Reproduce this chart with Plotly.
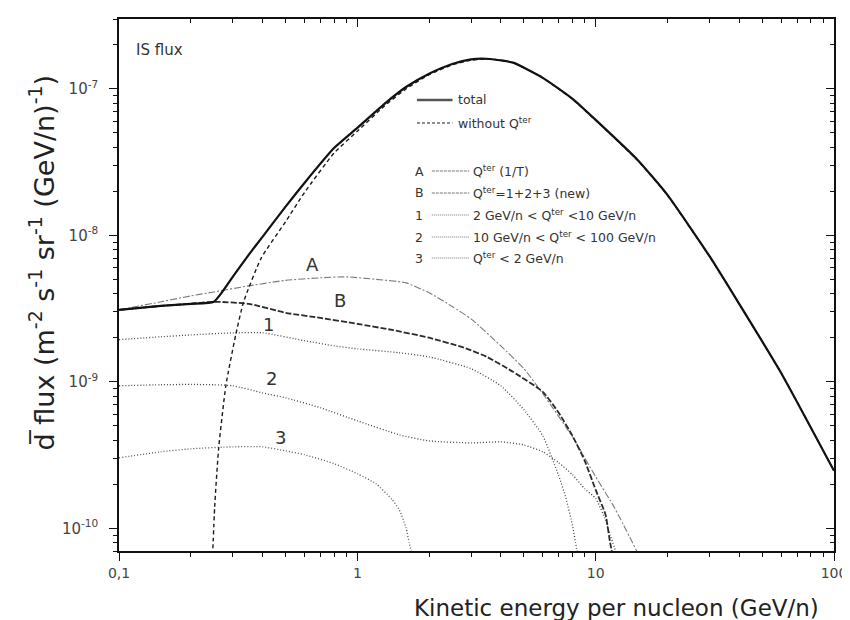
import numpy as np
import plotly.graph_objects as go

# ---------------- data ----------------
total_x = [0.1, 0.15, 0.2, 0.25, 0.3, 0.35, 0.4, 0.5, 0.6, 0.8, 1.0, 1.3, 1.6, 2.0,
           2.5, 3.0, 3.6, 4.5, 6, 8, 10, 15, 20, 30, 40, 60, 100]
total_y = [3.10e-9, 3.30e-9, 3.41e-9, 3.52e-9, 5.21e-9, 7.36e-9, 9.77e-9, 1.57e-8,
           2.28e-8, 3.96e-8, 5.42e-8, 7.91e-8, 1.03e-7, 1.27e-7, 1.48e-7, 1.59e-7,
           1.60e-7, 1.51e-7, 1.19e-7, 8.55e-8, 6.14e-8, 3.27e-8, 1.89e-8, 7.24e-9,
           3.41e-9, 1.15e-9, 2.47e-10]

without_x = [0.247, 0.252, 0.262, 0.281, 0.309, 0.333, 0.395, 0.5, 0.6, 0.8, 1.0, 1.3,
             1.6, 2.0, 2.5, 3.0, 3.6, 4.5, 6, 8, 10, 15, 20, 30, 40, 60, 100]
without_y = [6.5e-11, 1.4e-10, 3.55e-10, 9.5e-10, 2.1e-9, 3.5e-9, 7.0e-9, 1.24e-8,
             1.96e-8, 3.66e-8, 5.14e-8, 7.65e-8, 1.0e-7, 1.25e-7, 1.46e-7, 1.57e-7,
             1.60e-7, 1.51e-7, 1.19e-7, 8.5e-8, 6.1e-8, 3.25e-8, 1.88e-8, 7.2e-9,
             3.4e-9, 1.15e-9, 2.47e-10]

a_x = [0.1, 0.15, 0.2, 0.25, 0.35, 0.5, 0.7, 0.9, 1.2, 1.6, 2.0, 2.5, 3.0, 4.0, 5.0,
       6.0, 8.0, 10.0, 12.0, 15.0]
a_y = [3.10e-9, 3.52e-9, 3.86e-9, 4.11e-9, 4.52e-9, 4.93e-9, 5.13e-9, 5.21e-9, 5.01e-9,
       4.74e-9, 4.06e-9, 3.27e-9, 2.69e-9, 1.76e-9, 1.23e-9, 8.3e-10, 4.2e-10, 2.25e-10,
       1.38e-10, 6.8e-11]

b_x = [0.1, 0.15, 0.2, 0.25, 0.35, 0.5, 0.7, 1.0, 1.4, 2.0, 2.8, 3.5, 4.5, 6.0, 7.0,
       8.0, 9.0, 10.0, 11.0, 11.5, 11.8]
b_y = [3.10e-9, 3.30e-9, 3.41e-9, 3.52e-9, 3.41e-9, 2.96e-9, 2.73e-9, 2.49e-9, 2.26e-9,
       2.00e-9, 1.71e-9, 1.48e-9, 1.17e-9, 8.55e-10, 6.14e-10, 4.27e-10, 2.89e-10,
       1.83e-10, 1.24e-10, 7.96e-11, 6.5e-11]

c1_x = [0.1, 0.15, 0.2, 0.3, 0.4, 0.6, 0.8, 1.0, 1.5, 2.0, 3.0, 4.0, 5.0, 6.0, 7.0,
        7.5, 8.0, 8.3, 8.5]
c1_y = [1.94e-9, 2.03e-9, 2.09e-9, 2.16e-9, 2.16e-9, 1.91e-9, 1.76e-9, 1.68e-9,
        1.58e-9, 1.48e-9, 1.23e-9, 9.4e-10, 6.45e-10, 4.28e-10, 2.28e-10, 1.61e-10,
        1.04e-10, 7.4e-11, 6.0e-11]

c2_x = [0.1, 0.15, 0.2, 0.25, 0.3, 0.4, 0.5, 0.7, 1.0, 1.5, 2.0, 3.0, 4.0, 5.0, 6.0,
        7.0, 8.0, 9.0, 10.0, 11.0, 11.5, 12.2]
c2_y = [9.4e-10, 9.55e-10, 9.6e-10, 9.55e-10, 9.4e-10, 8.4e-10, 7.78e-10, 6.65e-10,
        5.42e-10, 4.35e-10, 3.95e-10, 3.83e-10, 3.89e-10, 3.71e-10, 3.33e-10, 2.80e-10,
        2.32e-10, 1.86e-10, 1.6e-10, 1.14e-10, 9.0e-11, 6.8e-11]

c3_x = [0.1, 0.15, 0.2, 0.3, 0.4, 0.5, 0.6, 0.8, 1.0, 1.2, 1.4, 1.5, 1.6, 1.65, 1.7]
c3_y = [3.03e-10, 3.33e-10, 3.49e-10, 3.60e-10, 3.60e-10, 3.38e-10, 3.18e-10, 2.76e-10,
        2.36e-10, 2.01e-10, 1.57e-10, 1.34e-10, 1.01e-10, 8.0e-11, 6.5e-11]

x_major = [0.1, 1, 10, 100]
x_major_text = ["0,1", "1", "10", "100"]
y_major = [1e-10, 1e-9, 1e-8, 1e-7]
y_major_text = ["10<sup>-10</sup>", "10<sup>-9</sup>", "10<sup>-8</sup>", "10<sup>-7</sup>"]

curve_labels = ["A", "B", "1", "2", "3"]
curve_label_x = [0.648, 0.848, 0.423, 0.435, 0.474]
curve_label_y = [6.29e-9, 3.57e-9, 2.45e-9, 1.06e-9, 4.15e-10]

legend_keys = ["A", "B", "1", "2", "3"]
legend_texts = ["Q<sup>ter</sup> (1/T)",
                "Q<sup>ter</sup>=1+2+3 (new)",
                "2 GeV/n &lt; Q<sup>ter</sup> &lt;10 GeV/n",
                "10 GeV/n &lt; Q<sup>ter</sup> &lt; 100 GeV/n",
                "Q<sup>ter</sup> &lt; 2 GeV/n"]

# ---------------- layout geometry ----------------
W, H = 850, 620
L, R, T, B = 110.5, 834.0, 11.0, 543.0
FONT = "DejaVu Sans"


def px(xp):
    return (xp - L) / (R - L)


def py(yp):
    return (B - yp) / (B - T)


x_minor = [m * d for d in [0.1, 1, 10] for m in range(2, 10)]
y_minor = [m * d for d in [1e-11, 1e-10, 1e-9, 1e-8, 1e-7] for m in range(2, 10)]

fig = go.Figure()

styles = {
    "A": dict(color="#7a7a7a", width=1.1, dash="7px,2px,2px,2px"),
    "B": dict(color="#2a2a2a", width=1.8, dash="6px,2px"),
    "1": dict(color="#444444", width=1.3, dash="1px,2px"),
    "2": dict(color="#444444", width=1.3, dash="1px,2px"),
    "3": dict(color="#555555", width=1.3, dash="1px,2px"),
    "without": dict(color="#1a1a1a", width=1.4, dash="4px,3px"),
    "total": dict(color="#111111", width=2.2, dash="solid"),
}

series = [
    ("3", c3_x, c3_y),
    ("2", c2_x, c2_y),
    ("1", c1_x, c1_y),
    ("A", a_x, a_y),
    ("B", b_x, b_y),
    ("without", without_x, without_y),
    ("total", total_x, total_y),
]
for key, xs, ys in series:
    st = styles[key]
    fig.add_trace(go.Scatter(
        x=xs, y=ys, mode="lines",
        line=dict(color=st["color"], width=st["width"], dash=st["dash"],
                  shape="spline", smoothing=0.5),
        showlegend=False, hoverinfo="skip"))

# invisible trace so the mirrored (top/right) axes get drawn
fig.add_trace(go.Scatter(x=[1], y=[1e-8], xaxis="x2", yaxis="y2", mode="markers",
                         marker=dict(opacity=0), showlegend=False, hoverinfo="skip"))

axis_common = dict(showgrid=False, zeroline=False, showline=True, linecolor="#111",
                   linewidth=1.6, tickcolor="#111", tickwidth=1.2)

fig.update_layout(
    width=W, height=H,
    margin=dict(l=L, r=W - R, t=T, b=H - B),
    paper_bgcolor="white", plot_bgcolor="white",
    font=dict(family=FONT, color="#333"),
    xaxis=dict(type="log", range=[-1, 2], tickvals=x_major, ticktext=x_major_text,
               ticks="outside", ticklen=8,
               tickfont=dict(size=14, color="#444", family=FONT),
               minor=dict(tickvals=x_minor, ticks="outside", ticklen=4,
                          tickcolor="#111", tickwidth=1),
               **axis_common),
    yaxis=dict(type="log", range=[np.log10(7.0e-11), np.log10(3.0e-7)],
               tickvals=y_major, ticktext=y_major_text,
               ticks="outside", ticklen=8, ticklabelstandoff=8,
               tickfont=dict(size=15, color="#444", family=FONT),
               minor=dict(tickvals=y_minor, ticks="outside", ticklen=4,
                          tickcolor="#111", tickwidth=1),
               **axis_common),
    xaxis2=dict(type="log", range=[-1, 2], overlaying="x", side="top", anchor="y2",
                tickvals=x_major, showticklabels=False, ticks="inside", ticklen=8,
                minor=dict(tickvals=x_minor, ticks="inside", ticklen=4,
                           tickcolor="#111", tickwidth=1),
                **axis_common),
    yaxis2=dict(type="log", range=[np.log10(7.0e-11), np.log10(3.0e-7)],
                overlaying="y", side="right", anchor="x2",
                tickvals=y_major, showticklabels=False, ticks="inside", ticklen=8,
                minor=dict(tickvals=y_minor, ticks="inside", ticklen=4,
                           tickcolor="#111", tickwidth=1),
                **axis_common),
)

ann = []
shapes = []

# axis titles
ann.append(dict(text="d\u0305 flux (m<sup>-2</sup> s<sup>-1</sup> sr<sup>-1</sup> (GeV/n)<sup>-1</sup>)",
                xref="paper", yref="paper", x=px(32), y=py(255), textangle=-90,
                showarrow=False, font=dict(size=27, color="#222", family=FONT),
                xanchor="center", yanchor="middle"))
ann.append(dict(text="Kinetic energy per nucleon (GeV/n)",
                xref="paper", yref="paper", x=px(821), y=py(600),
                showarrow=False, font=dict(size=23, color="#222", family=FONT),
                xanchor="right", yanchor="middle"))
ann.append(dict(text="IS flux", xref="paper", yref="paper", x=px(126), y=py(42),
                showarrow=False, font=dict(size=15, color="#333", family=FONT),
                xanchor="left", yanchor="middle"))

# curve labels
for t, lx, ly in zip(curve_labels, curve_label_x, curve_label_y):
    ann.append(dict(text=t, x=np.log10(lx), y=np.log10(ly), xref="x", yref="y",
                    showarrow=False, font=dict(size=18, color="#333", family=FONT),
                    xanchor="center", yanchor="middle"))

# legend (top part)
top_rows = [("total", "total", 92), ("without", "without Q<sup>ter</sup>", 115)]
for key, txt, yy in top_rows:
    st = styles[key]
    shapes.append(dict(type="line", xref="paper", yref="paper",
                       x0=px(412), x1=px(448), y0=py(yy), y1=py(yy),
                       line=dict(color="#555" if key == "total" else st["color"],
                                 width=2.6 if key == "total" else 1.2,
                                 dash="solid" if key == "total" else "3px,2px")))
    ann.append(dict(text=txt, xref="paper", yref="paper", x=px(452), y=py(yy),
                    showarrow=False, xanchor="left", yanchor="middle",
                    font=dict(size=12.5, color="#333", family=FONT)))

# legend (lower part)
rows_y = [163, 185, 207, 229, 250]
for key, txt, yy in zip(legend_keys, legend_texts, rows_y):
    st = styles[key]
    ann.append(dict(text=key, xref="paper", yref="paper", x=px(408), y=py(yy),
                    showarrow=False, xanchor="left", yanchor="middle",
                    font=dict(size=12.5, color="#333", family=FONT)))
    shapes.append(dict(type="line", xref="paper", yref="paper",
                       x0=px(427), x1=px(465), y0=py(yy), y1=py(yy),
                       line=dict(color="#777", width=1.0,
                                 dash="3px,1px" if key in ("A", "B") else "1px,1px")))
    ann.append(dict(text=txt, xref="paper", yref="paper", x=px(467), y=py(yy),
                    showarrow=False, xanchor="left", yanchor="middle",
                    font=dict(size=12.5, color="#333", family=FONT)))

fig.update_layout(annotations=ann, shapes=shapes)
fig.write_html("out.html")
